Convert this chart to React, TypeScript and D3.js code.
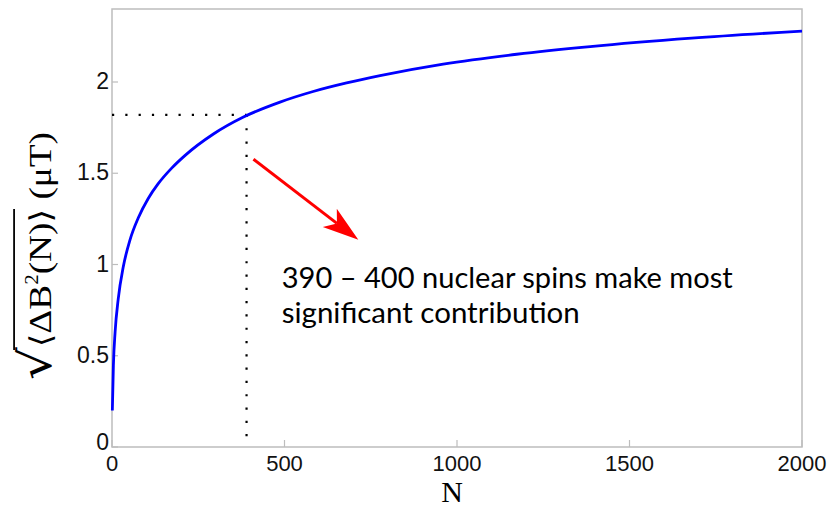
import React, { useRef, useLayoutEffect, useState } from 'react';
import * as d3 from 'd3';

// Curve: N (number of nuclear spins) vs sqrt(<ΔB²(N)>) in μT
const nValues = [1, 4, 9, 18, 33, 52, 76, 105, 134, 173, 212, 294, 381, 487, 583, 680, 777, 960, 1173, 1386, 1680, 2000];
const rmsField = [0.2, 0.445, 0.63, 0.81, 0.99, 1.134, 1.255, 1.362, 1.443, 1.528, 1.598, 1.715, 1.808, 1.89, 1.948, 1.995, 2.035, 2.098, 2.152, 2.194, 2.24, 2.279];
const xTicks = [0, 500, 1000, 1500, 2000];
const yTicks = [0, 0.5, 1, 1.5, 2];
const markerN = 390;
const markerValue = 1.82;
const annotationLines = ['390 – 400 nuclear spins make most', 'significant contribution'];
const arrowFrom = [410, 1.577];
const arrowTo = [714, 1.135];
const annotationAnchor = [492, 0.873];

const W = 832;
const H = 508;
const M = { left: 112, top: 9, right: 30, bottom: 61 };

export default function App() {
  const x = d3.scaleLinear().domain([0, 2000]).range([M.left, W - M.right]);
  const y = d3.scaleLinear().domain([0, 2.4]).range([H - M.bottom, M.top]);
  const pts = nValues.map((n, i) => [n, rmsField[i]] as [number, number]);
  const line = d3
    .line<[number, number]>()
    .x((d) => x(d[0]))
    .y((d) => y(d[1]))
    .curve(d3.curveMonotoneX);

  const labelRef = useRef<SVGTextElement | null>(null);
  const [ol, setOl] = useState<[number, number, number] | null>(null);
  useLayoutEffect(() => {
    const t = labelRef.current;
    if (!t) return;
    try {
      const r = t.getExtentOfChar(0);
      const e = t.getExtentOfChar(8);
      setOl([r.x + r.width * 0.92, e.x + e.width, r.y + r.height * 0.08]);
    } catch (err) {
      // ignore
    }
  }, []);

  // arrow geometry
  const ax0 = x(arrowFrom[0]);
  const ay0 = y(arrowFrom[1]);
  const ax1 = x(arrowTo[0]);
  const ay1 = y(arrowTo[1]);
  const len = Math.hypot(ax1 - ax0, ay1 - ay0);
  const ux = (ax1 - ax0) / len;
  const uy = (ay1 - ay0) / len;
  const px = -uy;
  const py = ux;
  const headLen = 36;
  const headHalf = 11.5;
  const notch = 27;
  const bx = ax1 - ux * headLen;
  const by = ay1 - uy * headLen;
  const head = [
    [ax1, ay1],
    [bx + px * headHalf, by + py * headHalf],
    [ax1 - ux * notch, ay1 - uy * notch],
    [bx - px * headHalf, by - py * headHalf],
  ]
    .map((p) => p.join(','))
    .join(' ');

  const frame = '#bdbdbd';
  const tickFont = "'Liberation Sans', Arial, sans-serif";
  const serif = "'Liberation Serif', 'Times New Roman', serif";

  return (
    <svg width={W} height={H} style={{ position: 'absolute', left: 0, top: 0, background: '#fff' }}>
      <rect x={0} y={0} width={W} height={H} fill="#fff" />
      {/* frame */}
      <rect
        x={x(0)}
        y={y(2.4)}
        width={x(2000) - x(0)}
        height={y(0) - y(2.4)}
        fill="none"
        stroke={frame}
        strokeWidth={1.5}
      />
      {/* ticks */}
      {yTicks.map((t) => (
        <g key={'y' + t}>
          <line x1={x(0)} x2={x(0) + 6} y1={y(t)} y2={y(t)} stroke={frame} strokeWidth={1.2} />
          <text
            x={x(0) - 3}
            y={y(t) + (t === 0 ? -3 : 1)}
            textAnchor="end"
            dominantBaseline="middle"
            fontFamily={tickFont}
            fontSize={23}
            fill="#111"
          >
            {t}
          </text>
        </g>
      ))}
      {xTicks.map((t) => (
        <g key={'x' + t}>
          <line x1={x(t)} x2={x(t)} y1={y(0)} y2={y(0) - 7} stroke={frame} strokeWidth={1.2} />
          <text x={x(t)} y={y(0) + 24} textAnchor="middle" fontFamily={tickFont} fontSize={22} fill="#111">
            {t}
          </text>
        </g>
      ))}
      {/* dotted guides */}
      <line
        x1={x(0)}
        x2={x(markerN)}
        y1={y(markerValue)}
        y2={y(markerValue)}
        stroke="#000"
        strokeWidth={2.2}
        strokeDasharray="2.2 11.1"
      />
      <line
        x1={x(markerN)}
        x2={x(markerN)}
        y1={y(markerValue)}
        y2={y(0)}
        stroke="#000"
        strokeWidth={2.2}
        strokeDasharray="2.2 11.1"
      />
      {/* curve */}
      <path d={line(pts) || ''} fill="none" stroke="#0000ff" strokeWidth={2.8} />
      {/* arrow */}
      <line x1={ax0} y1={ay0} x2={ax1 - ux * notch} y2={ay1 - uy * notch} stroke="#ff0000" strokeWidth={3} />
      <polygon points={head} fill="#ff0000" />
      {/* annotation */}
      {annotationLines.map((s, i) => (
        <text
          key={i}
          x={x(annotationAnchor[0])}
          y={y(annotationAnchor[1]) + i * 35}
          fontFamily="Lato, 'Open Sans', sans-serif"
          fontSize={28}
          fill="#000"
          textLength={i === 0 ? 451 : 298}
          lengthAdjust="spacingAndGlyphs"
        >
          {s}
        </text>
      ))}
      {/* x label */}
      <text x={452} y={502} textAnchor="middle" fontFamily={serif} fontSize={30} fill="#000">
        N
      </text>
      {/* y label */}
      <g transform={`translate(51, 256) rotate(-90)`}>
        <text
          ref={labelRef}
          x={-124}
          y={0}
          fontFamily={serif}
          fontSize={32}
          fill="#000"
          textLength={248}
          lengthAdjust="spacingAndGlyphs"
        >
          <tspan fontSize={44} fontFamily="'DejaVu Serif', serif">√</tspan>
          <tspan fontFamily="'DejaVu Serif', serif" fontSize={30}>⟨</tspan>
          <tspan>ΔB</tspan>
          <tspan fontSize={18} dy={-13}>2</tspan>
          <tspan dy={13}>(N)</tspan>
          <tspan fontFamily="'DejaVu Serif', serif" fontSize={30}>⟩</tspan>
          <tspan> (μT)</tspan>
        </text>
        {ol && <line x1={ol[0]} x2={ol[1]} y1={ol[2]} y2={ol[2]} stroke="#000" strokeWidth={1.8} />}
      </g>
    </svg>
  );
}
